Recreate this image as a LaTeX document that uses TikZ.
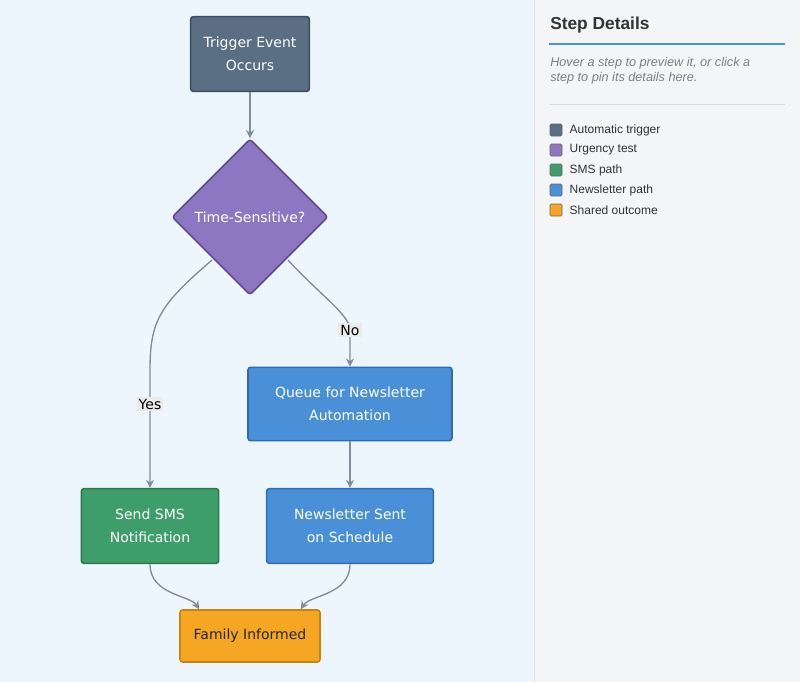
\documentclass[tikz,border=0pt]{standalone}
\usepackage{fontspec}
\setmainfont{DejaVu Sans}
\newfontfamily\panelfont{Liberation Sans}
\usetikzlibrary{shapes.geometric,arrows.meta}
\definecolor{leftbg}{HTML}{EEF6FD}
\definecolor{rightbg}{HTML}{F3F5F7}
\definecolor{trig}{HTML}{5A6E84}
\definecolor{trigb}{HTML}{3C4D60}
\definecolor{urg}{HTML}{8E77C2}
\definecolor{urgb}{HTML}{5E4A94}
\definecolor{sms}{HTML}{3D9E6B}
\definecolor{smsb}{HTML}{2B7A4E}
\definecolor{news}{HTML}{4A90D9}
\definecolor{newsb}{HTML}{2E6DB0}
\definecolor{shared}{HTML}{F5A623}
\definecolor{sharedb}{HTML}{C98310}
\definecolor{edge}{HTML}{7F8C99}
\tikzset{
  stepbox/.style={draw, line width=1.2pt, rounded corners=2pt, align=center,
    text=white, font=\fontsize{10.5}{17}\selectfont},
  flow/.style={draw=edge, line width=1pt, -{Stealth[length=6pt,width=6pt]}},
  tag/.style={fill=black!8, inner sep=1.5pt, font=\fontsize{10.5}{12}\selectfont},
  key/.style={draw=black!60, rounded corners=1pt, minimum size=9pt, inner sep=0pt},
  keytext/.style={right, font=\panelfont\fontsize{9}{10}\selectfont, text=black!80}
}
\begin{document}
\begin{tikzpicture}[x=0.75pt,y=-0.75pt]
  \useasboundingbox (0,0) rectangle (800,682);
  \fill[leftbg] (0,0) rectangle (534,682);
  \fill[rightbg] (534,0) rectangle (800,682);
  \draw[black!12] (534,0) -- (534,682);
  % flow chart
  \node[stepbox, fill=trig, draw=trigb, minimum width=89pt, minimum height=56pt] (trigger) at (250,54) {Trigger Event\\Occurs};
  \node[stepbox, diamond, fill=urg, draw=urgb, minimum width=117pt, minimum height=117pt, inner sep=0pt] (test) at (250,217) {Time-Sensitive?};
  \node[stepbox, fill=news, draw=newsb, minimum width=153pt, minimum height=55pt] (queue) at (350,404) {Queue for Newsletter\\Automation};
  \node[stepbox, fill=sms, draw=smsb, minimum width=103pt, minimum height=56pt] (sms) at (150,526) {Send SMS\\Notification};
  \node[stepbox, fill=news, draw=newsb, minimum width=125pt, minimum height=56pt] (sent) at (350,526) {Newsletter Sent\\on Schedule};
  \node[stepbox, fill=shared, draw=sharedb, text=black!85, minimum width=105pt, minimum height=39pt] (family) at (250,636) {Family Informed};
  \coordinate (yesbend) at (150,370);
  \coordinate (nobend) at (350,330);
  \coordinate (yesstart) at (212,260);
  \coordinate (nostart) at (288,260);
  \draw[flow] (yesstart) .. controls (160,305) and (150,320) .. (yesbend) -- (sms.north);
  \draw[flow] (trigger) -- (test);
  \draw[flow] (nostart) .. controls (320,295) and (350,315) .. (nobend) -- (queue.north);
  \node[tag] (yes) at (150,404) {Yes};
  \node[tag] (no) at (350,330) {No};
  \draw[flow] (queue) -- (sent);
  \draw[flow] (sms.south) .. controls (150,595) and (190,595) .. ([xshift=15pt]family.north west);
  \draw[flow] (sent.south) .. controls (350,595) and (310,595) .. ([xshift=-15pt]family.north east);
  % side panel
  \node[anchor=west, inner sep=0pt, font=\panelfont\bfseries\fontsize{13}{14}\selectfont, text=black!80] (title) at (550,25) {Step Details};
  \draw[news, line width=1.3pt] (549,44) -- (785,44);
  \node[anchor=north west, align=left, font=\panelfont\itshape\fontsize{9.5}{11.5}\selectfont, text=black!50, inner sep=0pt] (hint) at (550,57) {Hover a step to preview it, or click a\\step to pin its details here.};
  \draw[black!15] (549,104) -- (785,104);
  \foreach \c/\t [count=\i] in {trig/Automatic trigger, urg/Urgency test, sms/SMS path, news/Newsletter path, shared/Shared outcome}
  {
    \node[key, fill=\c] (key\i) at (556,110+20*\i) {};
    \node[keytext] at (565,110+20*\i) {\t};
  }
\end{tikzpicture}
\end{document}
